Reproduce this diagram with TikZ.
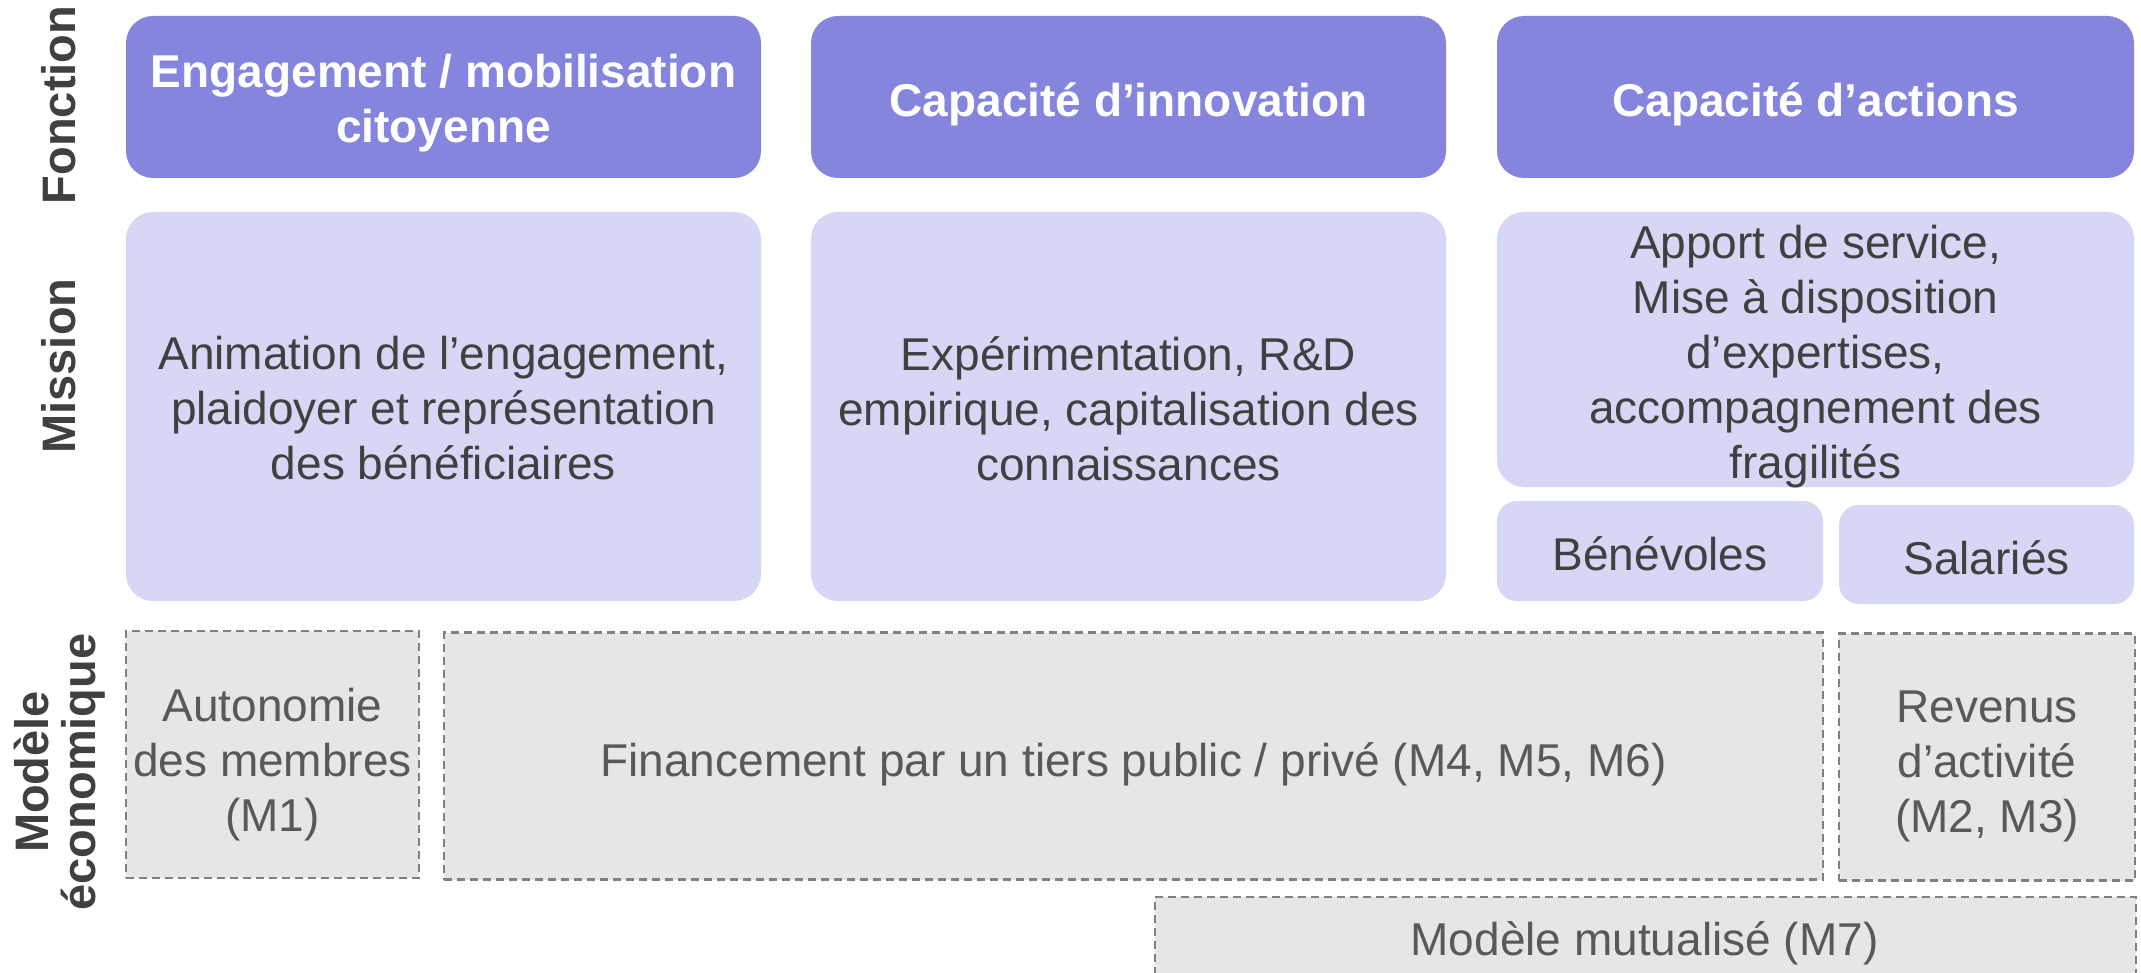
\documentclass[tikz,border=0pt]{standalone}
\usepackage{fontspec}
\setmainfont{Liberation Sans}
\definecolor{fonc}{HTML}{8585DE}
\definecolor{miss}{HTML}{D6D6F5}
\definecolor{eco}{HTML}{E6E6E6}
\definecolor{ecoline}{HTML}{808080}
\definecolor{txtdark}{HTML}{404040}
\definecolor{txteco}{HTML}{595959}
\tikzset{
  base/.style={inner sep=0pt, align=center, font=\fontsize{46}{55}\selectfont},
  foncbox/.style={base, fill=fonc, rounded corners=27pt},
  fonctext/.style={base, text=white, font=\fontsize{46}{55}\selectfont\bfseries},
  missbox/.style={base, fill=miss, rounded corners=27pt},
  misstext/.style={base, text=txtdark},
  smallbox/.style={base, fill=miss, rounded corners=20pt},
  ecobox/.style={base, fill=eco, draw=ecoline, line width=2.2pt, dash pattern=on 8pt off 5pt},
  ecotext/.style={base, text=txteco},
  sidelabel/.style={rotate=90, align=center, text=txtdark, font=\fontsize{47}{47}\selectfont\bfseries, inner sep=0pt},
}
\begin{document}
\begin{tikzpicture}[x=1pt, y=-1pt]
\clip (0,0) rectangle (2141,973);
\fill[white] (0,0) rectangle (2141,973);
% side labels
\node[sidelabel] (lf) at (59,105) {Fonction};
\node[sidelabel] (lm) at (59,366) {Mission};
\node[sidelabel] (le) at (60,772) {Modèle\\économique};
% fonction row
\node[foncbox, minimum width=635pt, minimum height=162pt] (f1) at (443.5,97) {};
\node[foncbox, minimum width=635pt, minimum height=162pt] (f2) at (1128.5,97) {};
\node[foncbox, minimum width=637pt, minimum height=162pt] (f3) at (1815.5,97) {};
\node[fonctext] (f1t) at ([yshift=-6pt]f1.center) {Engagement / mobilisation\\citoyenne};
\node[fonctext] (f2t) at ([yshift=-7pt]f2.center) {Capacité d’innovation};
\node[fonctext] (f3t) at ([yshift=-7pt]f3.center) {Capacité d’actions};
% mission row
\node[missbox, minimum width=635pt, minimum height=389pt] (m1) at (443.5,406.5) {};
\node[missbox, minimum width=635pt, minimum height=389pt] (m2) at (1128.5,406.5) {};
\node[missbox, minimum width=637pt, minimum height=275pt] (m3) at (1815.5,349.5) {};
\node[misstext] (m1t) at ([yshift=-2pt]m1.center) {Animation de l’engagement,\\plaidoyer et représentation\\des bénéficiaires};
\node[misstext] (m2t) at ([yshift=-2pt]m2.center) {Expérimentation, R\&D\\empirique, capitalisation des\\connaissances};
\node[misstext] (m3t) at ([yshift=-7pt]m3.center) {Apport de service,\\Mise à disposition\\d’expertises,\\accompagnement des\\fragilités};
\node[smallbox, minimum width=326pt, minimum height=100pt] (ben) at (1660,551) {};
\node[smallbox, minimum width=295pt, minimum height=99pt] (sal) at (1986.5,554.5) {};
\node[misstext] (bent) at ([yshift=-3pt]ben.center) {Bénévoles};
\node[misstext] (salt) at ([yshift=-3pt]sal.center) {Salariés};
% eco row
\node[ecobox, minimum width=293pt, minimum height=247pt] (e1) at (272.5,754.5) {};
\node[ecobox, minimum width=1379pt, minimum height=247pt] (e2) at (1133.5,756) {};
\node[ecobox, minimum width=296pt, minimum height=247pt] (e3) at (1987,757) {};
\node[ecobox, minimum width=981pt, minimum height=100pt, anchor=north west] (e4) at (1154,896) {};
\node[ecotext] (e1t) at ([yshift=-10pt]e1.center) {Autonomie\\des membres\\(M1)};
\node[ecotext] (e2t) at ([yshift=-8pt]e2.center) {Financement par un tiers public / privé (M4, M5, M6)};
\node[ecotext] (e3t) at ([yshift=-9pt]e3.center) {Revenus\\d’activité\\(M2, M3)};
\node[ecotext] (e4t) at (1644.5,943) {Modèle mutualisé (M7)};
\end{tikzpicture}
\end{document}
